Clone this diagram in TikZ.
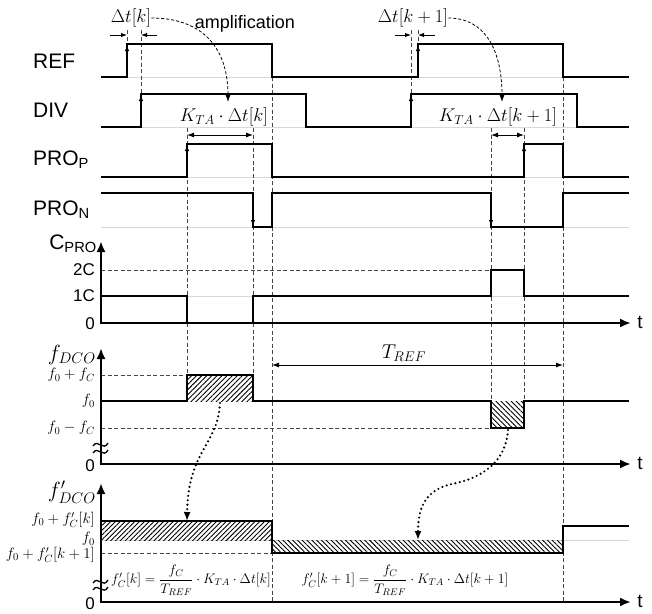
\RequirePackage{fix-cm}
\documentclass[tikz,border=0pt]{standalone}
\usepackage[no-math]{fontspec}
\setmainfont{Liberation Sans}
\usepackage{amsmath}
\usetikzlibrary{arrows.meta,patterns.meta}
\begin{document}
\begin{tikzpicture}[x=1pt,y=-1pt,
  sig/.style={line width=1.8pt, line join=miter},
  baseline gray/.style={line width=1pt, gray!30},
  vdash/.style={line width=0.7pt, gray!55!black, dash pattern=on 4pt off 2.5pt},
  axisline/.style={line width=2.6pt, -{Latex[length=11pt,width=9pt]}},
  edgearrow/.style={line width=1.6pt, -{Latex[length=6pt,width=4.5pt]}},
  dimarrow/.style={line width=0.9pt, -{Latex[length=6pt,width=4.5pt]}},
  biarrow/.style={line width=0.9pt, {Latex[length=7pt,width=5pt]}-{Latex[length=7pt,width=5pt]}},
  curvedash/.style={line width=0.8pt, dash pattern=on 3pt off 2pt, -{Latex[length=7pt,width=5pt]}},
  dotarrow/.style={line width=2.4pt, line cap=round, dash pattern=on 0pt off 4.5pt, -{Latex[length=9pt,width=7pt]}},
  siglab/.style={font=\fontsize{21}{24}\selectfont, anchor=west, inner sep=0pt},
  ticklab/.style={font=\fontsize{17}{20}\selectfont, anchor=east, inner sep=0pt},
  mlab/.style={font=\fontsize{18.5}{22}\selectfont, inner sep=0pt},
  flab/.style={font=\fontsize{15}{18}\selectfont, anchor=east, inner sep=0pt},
  tlab/.style={font=\fontsize{19}{22}\selectfont, inner sep=0pt},
  eqlab/.style={font=\fontsize{13.8}{17}\selectfont, inner sep=0pt},
  breakmark/.style={line width=1.3pt}
]
\useasboundingbox (0,0) rectangle (652,613);

% ---------- gray baselines ----------
\foreach \yy in {77,127,177,227,296,540}
  \draw[baseline gray] (101,\yy) -- (629,\yy);

% ---------- dashed verticals ----------
\draw[vdash] (127,30) -- (127,44);
\draw[vdash] (141,30) -- (141,94);
\draw[vdash] (418,30) -- (418,44);
\draw[vdash] (411,30) -- (411,94);
\draw[vdash] (187,128) -- (187,375);
\draw[vdash] (253,128) -- (253,375);
\draw[vdash] (272,77) -- (272,602);
\draw[vdash] (491,128) -- (491,401);
\draw[vdash] (524,128) -- (524,401);
\draw[vdash] (563,77) -- (563,602);

% ---------- dashed horizontals ----------
\draw[vdash] (101,270) -- (491,270);
\draw[vdash] (101,375) -- (187,375);
\draw[vdash] (101,428) -- (491,428);
\draw[vdash] (101,553) -- (272,553);

% ---------- hatched areas ----------
\fill[pattern={Lines[angle=45,distance=3.6pt,line width=0.9pt]}] (187,375) rectangle (253,401);
\fill[pattern={Lines[angle=-45,distance=3.6pt,line width=0.9pt]}] (491,401) rectangle (524,428);
\fill[pattern={Lines[angle=45,distance=3.4pt,line width=0.9pt]}] (101,521) rectangle (272,540);
\fill[pattern={Lines[angle=-45,distance=3.4pt,line width=0.9pt]}] (272,540) rectangle (563,553);

% ---------- signal labels ----------
\node[siglab] (lref) at (33,61) {REF};
\node[siglab] (ldiv) at (33,110) {DIV};
\node[siglab] (lprop) at (33,160) {PRO\textsubscript{P}};
\node[siglab] (lpron) at (33,210) {PRO\textsubscript{N}};

% ---------- digital signals ----------
\draw[sig] (101,77) -| (127,44) -| (272,77) -| (418,44) -| (563,77) -- (629,77);
\draw[sig] (101,127) -| (141,94) -| (306,127) -| (411,94) -| (577,127) -- (629,127);
\draw[sig] (101,177) -| (187,144) -| (272,177) -| (524,144) -| (563,177) -- (629,177);
\draw[sig] (101,193) -| (253,227) -| (272,193) -| (491,227) -| (563,193) -- (629,193);

\draw[edgearrow] (127,77) -- (127,45);
\draw[edgearrow] (141,127) -- (141,95);
\draw[edgearrow] (418,77) -- (418,45);
\draw[edgearrow] (411,127) -- (411,95);
\draw[edgearrow] (187,177) -- (187,145);
\draw[edgearrow] (524,177) -- (524,145);
\draw[edgearrow] (253,193) -- (253,226);
\draw[edgearrow] (491,193) -- (491,226);

% ---------- delta t annotations ----------
\node[mlab] (dtk) at (131,18) {$\Delta t[k]$};
\node[mlab] (dtk1) at (413,18) {$\Delta t[k+1]$};
\coordinate (ka) at (110,35); \coordinate (kb) at (127,35);
\coordinate (kc) at (157,35); \coordinate (kd) at (141,35);
\draw[dimarrow] (ka) -- (kb);
\draw[dimarrow] (kc) -- (kd);
\coordinate (ma) at (395,35); \coordinate (mb) at (411,35);
\coordinate (mc) at (435,35); \coordinate (md) at (418,35);
\draw[dimarrow] (ma) -- (mb);
\draw[dimarrow] (mc) -- (md);
\node[font=\fontsize{18}{21}\selectfont, inner sep=0pt] (amp) at (245,24) {amplification};

\coordinate (ampend) at (228,102);
\coordinate (ampend2) at (502,102);
\draw[curvedash] (dtk.east) .. controls (200,18) and (228,45) .. (ampend);
\draw[curvedash] (dtk1.east) .. controls (485,18) and (502,50) .. (ampend2);

\node[mlab] (kta) at (224,117) {$K_{TA}\cdot\Delta t[k]$};
\node[mlab] (kta1) at (498,117) {$K_{TA}\cdot\Delta t[k+1]$};
\coordinate (ba) at (187,135); \coordinate (bb) at (253,135);
\coordinate (bc) at (491,135); \coordinate (bd) at (524,135);
\draw[biarrow] (ba) -- (bb);
\draw[biarrow] (bc) -- (bd);

% ---------- C_PRO plot ----------
\draw[axisline] (101,323) -- (101,241);
\draw[axisline] (99.7,323) -- (631,323);
\node[anchor=east, inner sep=0pt, font=\fontsize{21}{24}\selectfont] (lcpro) at (97,244) {C\textsubscript{PRO}};
\node[ticklab] (l2c) at (95,270) {2C};
\node[ticklab] (l1c) at (95,296) {1C};
\node[ticklab] (l0a) at (95,324) {0};
\node[tlab] (t1) at (640,322) {t};
\draw[sig] (101,296) -| (187,323) -| (253,296) -| (491,270) -| (524,296) -- (629,296);

% ---------- f_DCO plot ----------
\draw[axisline] (101,464) -- (101,348);
\draw[axisline] (99.7,464) -- (631,464);
\node[anchor=east, inner sep=0pt, font=\fontsize{22}{25}\selectfont] (lfdco) at (96,355) {$f_{DCO}$};
\node[flab] (lf1) at (95,375) {$f_0+f_C$};
\node[flab] (lf2) at (95,401) {$f_0$};
\node[flab] (lf3) at (95,428) {$f_0-f_C$};
\node[ticklab] (l0b) at (95,466) {0};
\node[tlab] (t2) at (640,463) {t};
\draw[breakmark] (93,446) .. controls (98,438) and (103,452) .. (108,443);
\draw[breakmark] (93,453) .. controls (98,445) and (103,459) .. (108,450);
\draw[sig] (101,401) -| (187,375) -| (253,401) -| (491,428) -| (524,401) -- (629,401);

\coordinate (tra) at (272,365); \coordinate (trb) at (563,365);
\draw[biarrow] (tra) -- (trb);
\node[font=\fontsize{20}{23}\selectfont, inner sep=0pt] (tref) at (404,353) {$T_{REF}$};

% ---------- f'_DCO plot ----------
\draw[axisline] (101,602) -- (101,483);
\draw[axisline] (99.7,602) -- (631,602);
\node[anchor=east, inner sep=0pt, font=\fontsize{22}{25}\selectfont] (lfp) at (96,492) {$f'_{DCO}$};
\node[flab] (lg1) at (95,520) {$f_0+f'_C[k]$};
\node[flab] (lg2) at (95,539) {$f_0$};
\node[flab] (lg3) at (95,555) {$f_0+f'_C[k+1]$};
\node[ticklab] (l0c) at (95,604) {0};
\node[tlab] (t3) at (640,601) {t};
\draw[breakmark] (93,583) .. controls (98,575) and (103,589) .. (108,580);
\draw[breakmark] (93,590) .. controls (98,582) and (103,596) .. (108,587);
\draw[sig] (101,521) -| (272,553) -| (563,526) -- (629,526);

\node[eqlab] (eq1) at (191,580) {$f'_C[k]=\dfrac{f_C}{T_{REF}}\cdot K_{TA}\cdot\Delta t[k]$};
\node[eqlab] (eq2) at (405,580) {$f'_C[k+1]=\dfrac{f_C}{T_{REF}}\cdot K_{TA}\cdot\Delta t[k+1]$};

% ---------- dotted mapping arrows ----------
\coordinate (d1s) at (220,403);
\coordinate (d1e) at (187,521);
\draw[dotarrow] (d1s) .. controls (218,445) and (188,450) .. (d1e);
\coordinate (d2s) at (508,430);
\coordinate (d2m) at (452,484);
\coordinate (d2e) at (418,540);
\draw[dotarrow] (d2s) .. controls (506,462) and (482,478) .. (d2m) .. controls (425,490) and (418,508) .. (d2e);
\end{tikzpicture}
\end{document}
